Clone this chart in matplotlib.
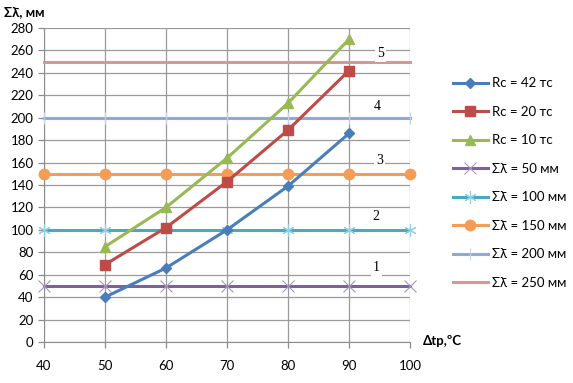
import matplotlib
matplotlib.use("Agg")
import matplotlib.pyplot as plt

# --- data ---
dt = [50, 60, 70, 80, 90]
rc42 = [40, 66, 100, 139, 186]
rc20 = [69, 102, 143, 189, 242]
rc10 = [85, 120, 164, 213, 270]

x_levels = [40, 50, 60, 70, 80, 90, 100]
levels = [50, 100, 150, 200, 250]
level_tags = ["1", "2", "3", "4", "5"]
tag_x = [94.5, 94.4, 95.0, 94.6, 95.2]
tag_y = [66, 112, 162, 210, 257]

plt.rcParams['font.family'] = ['Lato', 'DejaVu Sans']

fig = plt.figure(figsize=(5.73, 3.83), dpi=100)
ax = fig.add_axes([44 / 573, 1 - 342 / 383, 366 / 573, 314 / 383])

curves = [
    (rc42, "Rc = 42 тс", '#4A7EBB', 'D', 5.5),
    (rc20, "Rc = 20 тс", '#BE4B48', 's', 7),
    (rc10, "Rc = 10 тс", '#98B954', '^', 7.5),
]
for vals, lbl, col, mk, ms in curves:
    ax.plot(dt, vals, color=col, lw=2.2, marker=mk, ms=ms, label=lbl, zorder=4)

level_styles = [
    ('#7D60A0', 'x', 8, 0.8, '#A796C2'),
    ('#46AAC5', (6, 2, 0), 9, 0.8, '#8ED0E2'),
    ('#F59D56', 'o', 7.5, 1.0, '#F59D56'),
    ('#8EA9DB', '|', 8, 0.8, '#C3D3EE'),
    ('#D99694', None, 0, 0.0, '#D99694'),
]
for lev, (col, mk, ms, mew, mcol) in zip(levels, level_styles):
    ax.plot(x_levels, [lev] * len(x_levels), color=col, lw=2.2, marker=mk, ms=ms,
            mec=mcol, mfc=mcol, mew=mew, label=f"Σλ̄ = {lev} мм", zorder=3, clip_on=False)

for t, tx, ty in zip(level_tags, tag_x, tag_y):
    ax.text(tx, ty, t, family='Liberation Serif', fontsize=10, ha='center', va='center',
            bbox=dict(facecolor='white', edgecolor='none', pad=1.5), zorder=5)

ax.set_xlim(40, 100)
ax.set_ylim(0, 280)
ax.set_xticks(range(40, 101, 10))
ax.set_yticks(range(0, 281, 20))
ax.grid(True, color='#9A9A9A', lw=0.9)
ax.set_axisbelow(True)
for s in ['top', 'right']:
    ax.spines[s].set_visible(False)
for s in ['left', 'bottom']:
    ax.spines[s].set_color('#8C8C8C')
ax.tick_params(axis='both', colors='#8C8C8C', labelcolor='black', labelsize=9.5, length=4, width=0.9)
ax.tick_params(axis='x', pad=9)

fig.text(4 / 573, 1 - 12 / 383, "Σλ̄, мм", fontsize=9.5, fontweight='bold', va='center', ha='left')
fig.text(423 / 573, 1 - 341 / 383, "Δtp,ºC", fontsize=9.5, fontweight='bold', va='center', ha='left')

ax.legend(loc='upper left', bbox_to_anchor=(448 / 573, 1 - 72 / 383), bbox_transform=fig.transFigure,
          frameon=False, fontsize=9.5, handlelength=2.6, labelspacing=1.25, handletextpad=0.3,
          borderaxespad=0)

fig.savefig("out.png", dpi=100)
